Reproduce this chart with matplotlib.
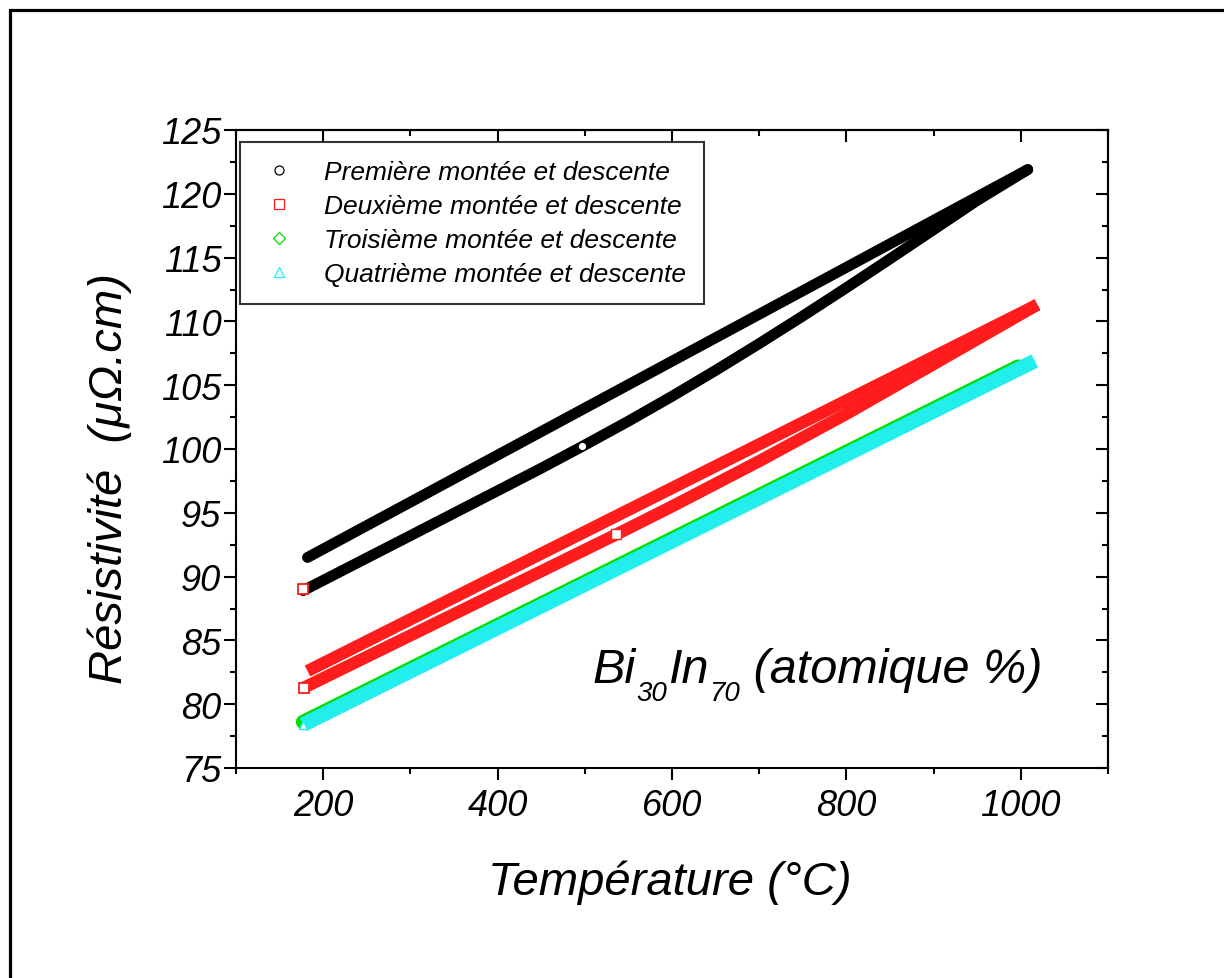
import numpy as np
import matplotlib
matplotlib.use('Agg')
import matplotlib.pyplot as plt
from matplotlib.ticker import MultipleLocator
from matplotlib.lines import Line2D

plt.rcParams['font.family'] = ['Liberation Sans', 'DejaVu Sans']
plt.rcParams['font.style'] = 'italic'
plt.rcParams['mathtext.default'] = 'regular'

# ---------------- data (Temperature °C, Resistivity µΩ.cm) ----------------
black_low_T = [177, 300, 400, 450, 497, 550, 600, 650, 700, 750, 800, 850, 900, 950, 1008]
black_low_R = [88.90, 93.21, 96.73, 98.49, 100.20, 102.18, 104.13, 106.16, 108.26, 110.42,
               112.64, 114.90, 117.19, 119.48, 121.90]
black_up_T = [182, 300, 400, 500, 600, 700, 800, 900, 1008]
black_up_R = [91.50, 95.84, 99.52, 103.20, 106.88, 110.56, 114.24, 117.92, 121.90]

red_first_T = [177]
red_first_R = [89.0]
red_low_T = [178, 300, 400, 536, 600, 700, 800, 900, 1019]
red_low_R = [81.30, 85.39, 88.74, 93.30, 95.50, 99.05, 102.75, 106.65, 111.31]
red_up_T = [182, 300, 400, 500, 600, 700, 800, 900, 1019]
red_up_R = [82.60, 86.65, 90.08, 93.51, 96.94, 100.37, 103.80, 107.23, 111.31]

green_T = [177, 400, 600, 800, 997]
green_R = [78.60, 86.18, 92.97, 99.76, 106.45]

cyan_T = [177, 400, 600, 800, 1016]
cyan_R = [78.40, 85.98, 92.77, 99.56, 106.90]

labels = ["Première montée et descente", "Deuxième montée et descente",
          "Troisième montée et descente", "Quatrième montée et descente"]
x_ticks = [200, 400, 600, 800, 1000]
y_ticks = [75, 80, 85, 90, 95, 100, 105, 110, 115, 120, 125]

BLACK, RED, GREEN, CYAN = 'black', '#ff1c1c', '#00e000', '#22eeee'

# ---------------- figure ----------------
W, H = 1224, 979
fig = plt.figure(figsize=(W / 100, H / 100), dpi=100)
L, R_, T_, B = 236, 1108, 131, 769
ax = fig.add_axes([L / W, 1 - B / H, (R_ - L) / W, (B - T_) / H])

# figure frame (left and top visible)
fig.add_artist(Line2D([10 / W, 10 / W, 1.01], [-0.01, 1 - 11 / H, 1 - 11 / H],
                      transform=fig.transFigure, color='black', lw=2.3,
                      solid_joinstyle='miter'))

def band(Tv, Rv, color, lw, cap='round', z=2):
    ax.plot(Tv, Rv, color=color, lw=lw, solid_capstyle=cap,
            solid_joinstyle='round', zorder=z)

band(black_low_T, black_low_R, BLACK, 7.8)
band(black_up_T, black_up_R, BLACK, 7.8)
band(red_low_T, red_low_R, RED, 8.8, cap='butt', z=3)
band(red_up_T, red_up_R, RED, 8.8, cap='butt', z=3)
band(green_T, green_R, GREEN, 10.5, cap='round', z=4)
band(cyan_T, cyan_R, CYAN, 10.5, cap='butt', z=5)

# a few single open markers visible on top
ax.plot(black_low_T[4], black_low_R[4], 'o', ms=6, mfc='white', mec='black', mew=0.8, zorder=6)
ax.plot(red_first_T, red_first_R, 's', ms=7, mfc='white', mec=RED, mew=1.3, zorder=6)
ax.plot(red_low_T[0], red_low_R[0], 's', ms=7, mfc='white', mec=RED, mew=1.3, zorder=6)
ax.plot(red_low_T[3], red_low_R[3], 's', ms=7, mfc='white', mec=RED, mew=1.0, zorder=6)
ax.plot(cyan_T[0], cyan_R[0], '^', ms=6, mfc='white', mec=CYAN, mew=1.0, zorder=6)

ax.set_xlim(100, 1100)
ax.set_ylim(75, 125)
ax.set_xticks(x_ticks)
ax.set_yticks(y_ticks)
ax.xaxis.set_minor_locator(MultipleLocator(100))
ax.yaxis.set_minor_locator(MultipleLocator(2.5))
ax.tick_params(which='both', direction='out', width=1.5, labelsize=26, top=False, right=False)
ax.tick_params(which='major', length=8.5)
ax.tick_params(which='minor', length=4.3)
ax.tick_params(axis='y', pad=2)
ax.tick_params(axis='x', pad=6)
for s in ax.spines.values():
    s.set_linewidth(1.5)

secx = ax.secondary_xaxis('top')
secx.set_xticks(x_ticks)
secx.xaxis.set_minor_locator(MultipleLocator(100))
secx.tick_params(which='both', direction='in', width=1.5, labeltop=False)
secx.tick_params(which='major', length=8.5)
secx.tick_params(which='minor', length=4.3)
secx.spines['top'].set_linewidth(1.5)
secy = ax.secondary_yaxis('right')
secy.set_yticks(y_ticks)
secy.yaxis.set_minor_locator(MultipleLocator(2.5))
secy.tick_params(which='both', direction='in', width=1.5, labelright=False)
secy.tick_params(which='major', length=8.5)
secy.tick_params(which='minor', length=4.3)
secy.spines['right'].set_linewidth(1.5)

ax.set_xlabel("Température (°C)", fontsize=34)
ax.xaxis.set_label_coords(0.498, -0.143)
ax.xaxis.label.set_va('top')
ax.set_ylabel("Résistivité  (μΩ.cm)", fontsize=34)
ax.yaxis.set_label_coords(-0.119, 0.456)

# legend
handles = [
    Line2D([], [], ls='none', marker='o', ms=6.5, mfc='white', mec=BLACK, mew=0.9),
    Line2D([], [], ls='none', marker='s', ms=6.5, mfc='white', mec=RED, mew=0.9),
    Line2D([], [], ls='none', marker='D', ms=6.0, mfc='white', mec=GREEN, mew=0.9),
    Line2D([], [], ls='none', marker='^', ms=7.0, mfc='white', mec=CYAN, mew=0.9),
]
leg = ax.legend(handles, labels, loc='upper left', bbox_to_anchor=(4 / 872, (769 - 143) / 638),
                borderaxespad=0, fontsize=19, frameon=True, fancybox=False,
                handlelength=1.6, handletextpad=0.9, borderpad=0.68, labelspacing=0.38,
                numpoints=1)
leg.get_frame().set_edgecolor('black')
leg.get_frame().set_linewidth(1.5)

# annotation Bi30In70 (atomique %)
t1 = ax.text((593 - 236) / 872, (769 - 683) / 638, "Bi", transform=ax.transAxes,
             fontsize=35, va='baseline', ha='left')
t2 = ax.annotate("30", xy=(1, 0), xycoords=t1, xytext=(0.5, -6), textcoords='offset points',
                 fontsize=20, va='baseline', ha='left')
t3 = ax.annotate("In", xy=(1, 0), xycoords=(t2, t1), xytext=(0.5, 0), textcoords='offset points',
                 fontsize=35, va='bottom', ha='left')
t4 = ax.annotate("70", xy=(1, 0), xycoords=(t3, t1), xytext=(0.5, -6), textcoords='offset points',
                 fontsize=20, va='baseline', ha='left')
t5 = ax.annotate(" (atomique %)", xy=(1, 0), xycoords=(t4, t1), xytext=(0, 0), textcoords='offset points',
                 fontsize=35, va='bottom', ha='left')

fig.savefig("out.png", dpi=100)
